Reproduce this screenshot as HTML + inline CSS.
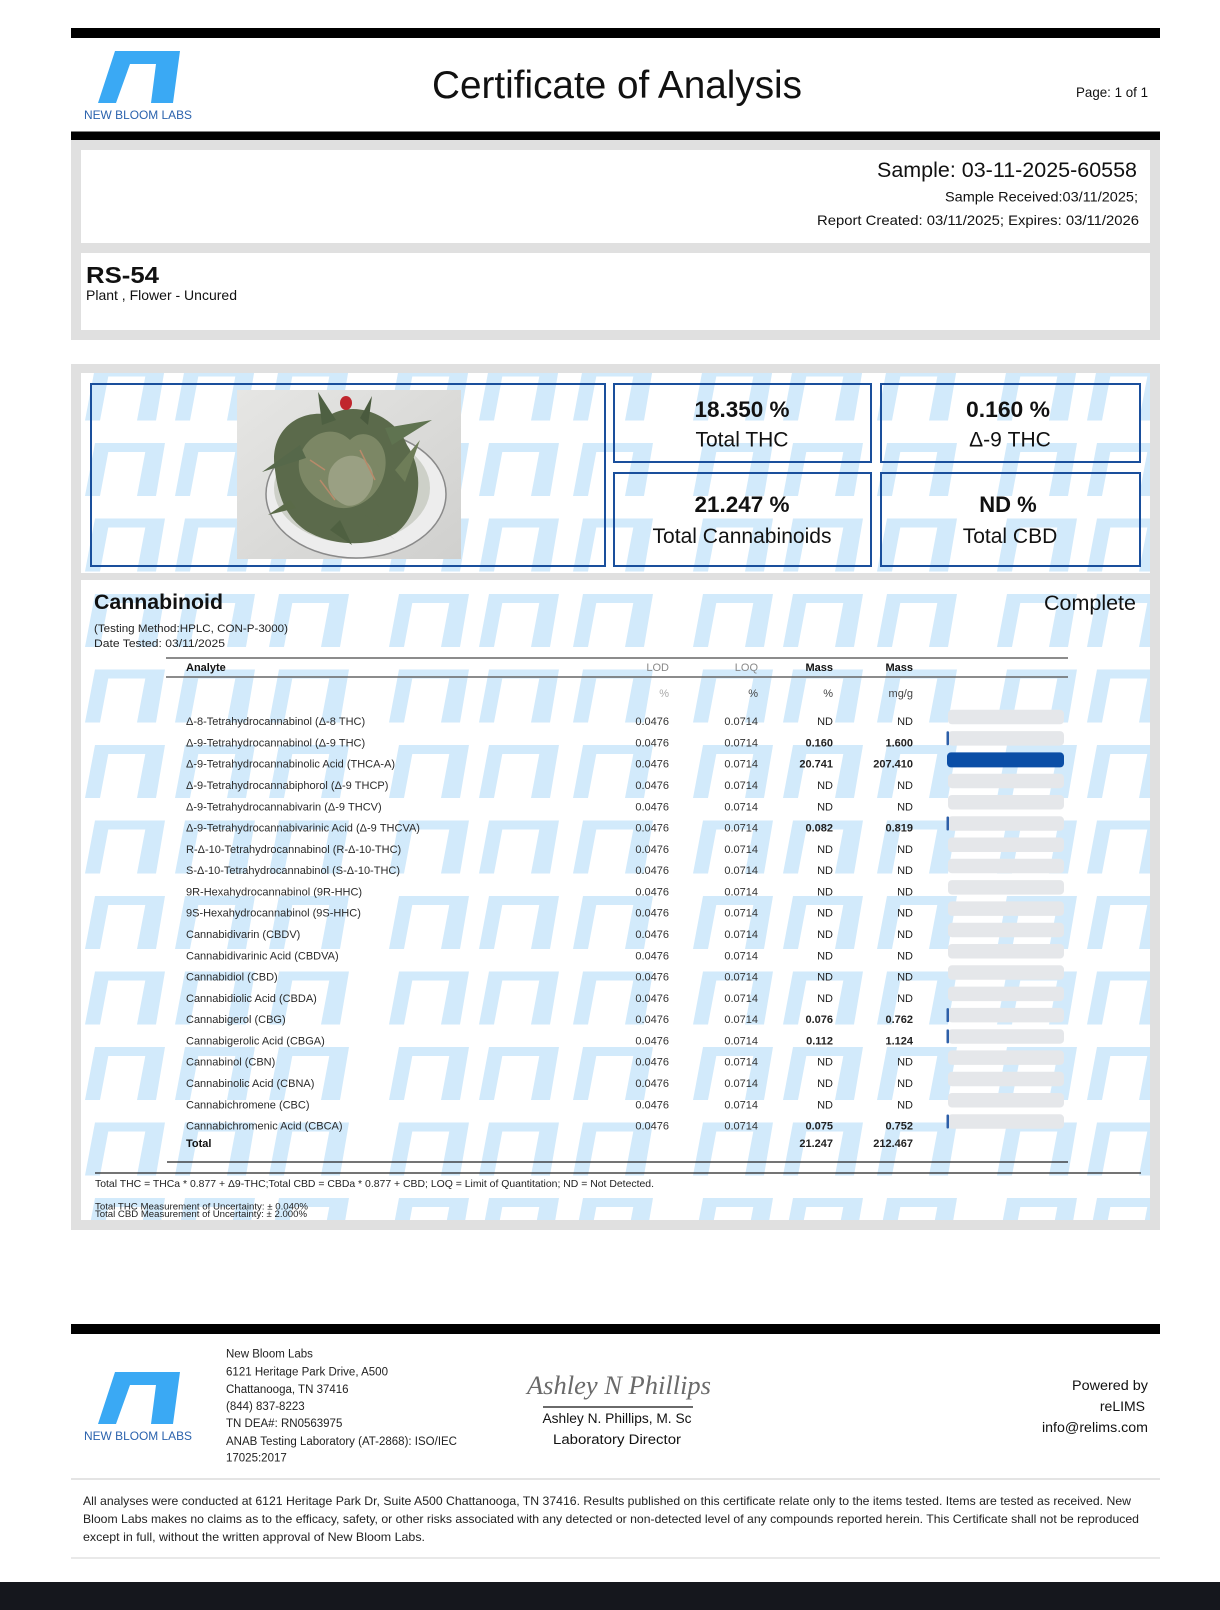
<!DOCTYPE html>
<html>
<head>
<meta charset="utf-8">
<style>
html,body{margin:0;padding:0;background:#fff;}
svg{display:block;}
</style>
</head>
<body>
<svg width="1220" height="1610" viewBox="0 0 1220 1610" xmlns="http://www.w3.org/2000/svg" font-family="'Liberation Sans', 'DejaVu Sans', sans-serif">
<defs>
  <pattern id="wm" patternUnits="userSpaceOnUse" x="85" y="443" width="304" height="75.5">
    <g fill="#d2eafb">
      <polygon points="10,0 80,0 71,53 52,53 60.3,9 23.3,9 15,53 0,53"/>
      <polygon points="100,0 170,0 161,53 142,53 150.3,9 113.3,9 105,53 90,53"/>
      <polygon points="194,0 264,0 255,53 236,53 244.3,9 207.3,9 199,53 184,53"/>
    </g>
  </pattern>
  <linearGradient id="photobg" x1="0" y1="0" x2="1" y2="1">
    <stop offset="0" stop-color="#e6e6e4"/>
    <stop offset="1" stop-color="#d0d0ce"/>
  </linearGradient>
</defs>

<!-- Header -->
<rect x="71" y="28" width="1089" height="10" fill="#000"/>
<polygon points="115,51 180,51 173,103 151,103 156,64 130,64 116,103 98,103" fill="#3aa9f4"/>
<text x="84" y="119" font-size="12" fill="#2a62ad" textLength="108" lengthAdjust="spacingAndGlyphs">NEW BLOOM LABS</text>
<text x="617" y="98" font-size="38.5" fill="#111" text-anchor="middle" textLength="370" lengthAdjust="spacingAndGlyphs">Certificate of Analysis</text>
<text x="1148" y="97" font-size="14" fill="#111" text-anchor="end" textLength="72" lengthAdjust="spacingAndGlyphs">Page: 1 of 1</text>
<rect x="71" y="131.5" width="1089" height="9" fill="#000"/>

<!-- Sample panel -->
<rect x="71" y="140" width="1089" height="200" fill="#e0e0e0"/>
<rect x="81" y="150" width="1069" height="93" fill="#fff"/>
<rect x="81" y="253" width="1069" height="77" fill="#fff"/>
<text x="1137" y="177" font-size="21" fill="#111" text-anchor="end" textLength="260" lengthAdjust="spacingAndGlyphs">Sample: 03-11-2025-60558</text>
<text x="1138" y="201.5" font-size="14" fill="#111" text-anchor="end" textLength="193" lengthAdjust="spacingAndGlyphs">Sample Received:03/11/2025;</text>
<text x="1139" y="225" font-size="14" fill="#111" text-anchor="end" textLength="322" lengthAdjust="spacingAndGlyphs">Report Created: 03/11/2025; Expires: 03/11/2026</text>
<text x="86" y="283" font-size="23" font-weight="bold" fill="#111" textLength="73" lengthAdjust="spacingAndGlyphs">RS-54</text>
<text x="86" y="300" font-size="14" fill="#111" textLength="151" lengthAdjust="spacingAndGlyphs">Plant , Flower - Uncured</text>

<!-- Main panel -->
<rect x="71" y="364" width="1089" height="866" fill="#e0e0e0"/>
<rect x="81" y="373" width="1069" height="200" fill="#fff"/>
<rect x="81" y="373" width="1069" height="200" fill="url(#wm)"/>
<rect x="81" y="580" width="1069" height="640" fill="#fff"/>
<rect x="81" y="580" width="1069" height="640" fill="url(#wm)"/>

<!-- Photo -->
<rect x="237" y="390" width="224" height="169" fill="url(#photobg)"/>
<ellipse cx="356" cy="494" rx="90" ry="64" fill="#ededed" stroke="#8a8a8a" stroke-width="1.5"/>
<ellipse cx="352" cy="488" rx="78" ry="55" fill="#cdd0c8"/>
<path d="M275,470 C268,430 300,408 330,415 C360,398 398,420 407,445 C426,472 420,515 396,533 C370,548 330,546 305,530 C285,516 278,495 275,470Z" fill="#5b6a4b"/>
<path d="M300,455 C310,430 335,425 350,440 C365,425 390,440 385,470 C380,500 350,515 330,505 C305,495 295,475 300,455Z" fill="#7c8765"/>
<path d="M330,470 C340,450 365,452 372,470 C378,490 360,510 345,505 C330,498 325,485 330,470Z" fill="#9aa083"/>
<polygon points="300,445 262,472 306,458" fill="#56684a"/>
<polygon points="322,425 318,392 336,420" fill="#4e6042"/>
<polygon points="385,428 432,420 392,445" fill="#5f7350"/>
<polygon points="360,418 372,396 368,425" fill="#4a5a3e"/>
<polygon points="395,470 420,440 405,482" fill="#6e7d58"/>
<polygon points="290,500 268,515 296,508" fill="#5a6a48"/>
<polygon points="340,520 352,545 330,530" fill="#4f6041"/>
<polygon points="365,515 395,540 372,520" fill="#5c6c4b"/>
<ellipse cx="346" cy="403" rx="6" ry="7" fill="#c0262d"/>
<path d="M360,450 L375,480 M320,480 L335,500 M310,460 L325,470" stroke="#b88a6a" stroke-width="1.5"/>

<!-- Stat boxes -->
<g fill="none" stroke="#1a4f9c" stroke-width="2">
  <rect x="91" y="384" width="514" height="182"/>
  <rect x="614" y="384" width="257" height="78"/>
  <rect x="881" y="384" width="259" height="78"/>
  <rect x="614" y="473" width="257" height="93"/>
  <rect x="881" y="473" width="259" height="93"/>
</g>
<text x="742" y="417" font-size="22" font-weight="bold" fill="#111" text-anchor="middle" textLength="95" lengthAdjust="spacingAndGlyphs">18.350 %</text>
<text x="742" y="446.5" font-size="21" fill="#111" text-anchor="middle">Total THC</text>
<text x="1008" y="417" font-size="22" font-weight="bold" fill="#111" text-anchor="middle" textLength="84" lengthAdjust="spacingAndGlyphs">0.160 %</text>
<text x="1010" y="446.5" font-size="21" fill="#111" text-anchor="middle">Δ-9 THC</text>
<text x="742" y="512" font-size="22" font-weight="bold" fill="#111" text-anchor="middle" textLength="95" lengthAdjust="spacingAndGlyphs">21.247 %</text>
<text x="742" y="543" font-size="21" fill="#111" text-anchor="middle" textLength="179" lengthAdjust="spacingAndGlyphs">Total Cannabinoids</text>
<text x="1008" y="512" font-size="22" font-weight="bold" fill="#111" text-anchor="middle">ND %</text>
<text x="1010" y="543" font-size="21" fill="#111" text-anchor="middle">Total CBD</text>

<!-- Cannabinoid section -->
<text x="94" y="609" font-size="21" font-weight="bold" fill="#111" textLength="129" lengthAdjust="spacingAndGlyphs">Cannabinoid</text>
<text x="1136" y="610" font-size="21" fill="#111" text-anchor="end" textLength="92" lengthAdjust="spacingAndGlyphs">Complete</text>
<text x="94" y="632" font-size="11" fill="#222" textLength="194" lengthAdjust="spacingAndGlyphs">(Testing Method:HPLC, CON-P-3000)</text>
<text x="94" y="647" font-size="11" fill="#222" textLength="131" lengthAdjust="spacingAndGlyphs">Date Tested: 03/11/2025</text>

<line x1="166" y1="658" x2="1068" y2="658" stroke="#666" stroke-width="1.5"/>
<line x1="166" y1="677" x2="1068" y2="677" stroke="#666" stroke-width="1.5"/>
<g font-size="11">
  <text x="186" y="671" font-weight="bold" fill="#111">Analyte</text>
  <text x="669" y="671" fill="#888" text-anchor="end">LOD</text>
  <text x="758" y="671" fill="#888" text-anchor="end">LOQ</text>
  <text x="833" y="671" fill="#111" font-weight="bold" text-anchor="end">Mass</text>
  <text x="913" y="671" fill="#111" font-weight="bold" text-anchor="end">Mass</text>
  <text x="669" y="697" fill="#aaa" text-anchor="end">%</text>
  <text x="758" y="697" fill="#444" text-anchor="end">%</text>
  <text x="833" y="697" fill="#444" text-anchor="end">%</text>
  <text x="913" y="697" fill="#444" text-anchor="end">mg/g</text>
</g>

<!-- Bars -->
<g fill="#e5e7ea">
  <rect x="948" y="709.8" width="116" height="14.5" rx="4"/>
  <rect x="948" y="731.1" width="116" height="14.5" rx="4"/>
  <rect x="948" y="795.0" width="116" height="14.5" rx="4"/>
  <rect x="948" y="773.7" width="116" height="14.5" rx="4"/>
  <rect x="948" y="816.3" width="116" height="14.5" rx="4"/>
  <rect x="948" y="837.5" width="116" height="14.5" rx="4"/>
  <rect x="948" y="858.8" width="116" height="14.5" rx="4"/>
  <rect x="948" y="880.1" width="116" height="14.5" rx="4"/>
  <rect x="948" y="901.4" width="116" height="14.5" rx="4"/>
  <rect x="948" y="922.7" width="116" height="14.5" rx="4"/>
  <rect x="948" y="944.0" width="116" height="14.5" rx="4"/>
  <rect x="948" y="965.3" width="116" height="14.5" rx="4"/>
  <rect x="948" y="986.6" width="116" height="14.5" rx="4"/>
  <rect x="948" y="1007.9" width="116" height="14.5" rx="4"/>
  <rect x="948" y="1029.2" width="116" height="14.5" rx="4"/>
  <rect x="948" y="1050.4" width="116" height="14.5" rx="4"/>
  <rect x="948" y="1071.7" width="116" height="14.5" rx="4"/>
  <rect x="948" y="1093.0" width="116" height="14.5" rx="4"/>
  <rect x="948" y="1114.3" width="116" height="14.5" rx="4"/>
</g>
<rect x="947" y="752.4" width="117" height="15" rx="4" fill="#0b4ea6"/>
<g fill="#2d5fa8">
  <rect x="946.5" y="731.3" width="2.5" height="14" rx="1"/>
  <rect x="946.5" y="816.5" width="2.5" height="14" rx="1"/>
  <rect x="946.5" y="1008.1" width="2.5" height="14" rx="1"/>
  <rect x="946.5" y="1029.4" width="2.5" height="14" rx="1"/>
  <rect x="946.5" y="1114.5" width="2.5" height="14" rx="1"/>
</g>

<!-- Table rows -->
<g font-size="11" fill="#2a2a2a">
  <text x="186" y="725.1">Δ-8-Tetrahydrocannabinol (Δ-8 THC)</text>
  <text x="186" y="746.4">Δ-9-Tetrahydrocannabinol (Δ-9 THC)</text>
  <text x="186" y="767.7">Δ-9-Tetrahydrocannabinolic Acid (THCA-A)</text>
  <text x="186" y="789.0">Δ-9-Tetrahydrocannabiphorol (Δ-9 THCP)</text>
  <text x="186" y="810.3">Δ-9-Tetrahydrocannabivarin (Δ-9 THCV)</text>
  <text x="186" y="831.6">Δ-9-Tetrahydrocannabivarinic Acid (Δ-9 THCVA)</text>
  <text x="186" y="852.8">R-Δ-10-Tetrahydrocannabinol (R-Δ-10-THC)</text>
  <text x="186" y="874.1">S-Δ-10-Tetrahydrocannabinol (S-Δ-10-THC)</text>
  <text x="186" y="895.4">9R-Hexahydrocannabinol (9R-HHC)</text>
  <text x="186" y="916.7">9S-Hexahydrocannabinol (9S-HHC)</text>
  <text x="186" y="938.0">Cannabidivarin (CBDV)</text>
  <text x="186" y="959.3">Cannabidivarinic Acid (CBDVA)</text>
  <text x="186" y="980.6">Cannabidiol (CBD)</text>
  <text x="186" y="1001.9">Cannabidiolic Acid (CBDA)</text>
  <text x="186" y="1023.2">Cannabigerol (CBG)</text>
  <text x="186" y="1044.5">Cannabigerolic Acid (CBGA)</text>
  <text x="186" y="1065.7">Cannabinol (CBN)</text>
  <text x="186" y="1087.0">Cannabinolic Acid (CBNA)</text>
  <text x="186" y="1108.3">Cannabichromene (CBC)</text>
  <text x="186" y="1129.6">Cannabichromenic Acid (CBCA)</text>
  <text x="186" y="1147" font-weight="bold" fill="#111">Total</text>
</g>
<g font-size="11" fill="#333" text-anchor="end">
  <text x="669" y="725.1">0.0476</text><text x="758" y="725.1">0.0714</text>
  <text x="669" y="746.4">0.0476</text><text x="758" y="746.4">0.0714</text>
  <text x="669" y="767.7">0.0476</text><text x="758" y="767.7">0.0714</text>
  <text x="669" y="789.0">0.0476</text><text x="758" y="789.0">0.0714</text>
  <text x="669" y="810.3">0.0476</text><text x="758" y="810.3">0.0714</text>
  <text x="669" y="831.6">0.0476</text><text x="758" y="831.6">0.0714</text>
  <text x="669" y="852.8">0.0476</text><text x="758" y="852.8">0.0714</text>
  <text x="669" y="874.1">0.0476</text><text x="758" y="874.1">0.0714</text>
  <text x="669" y="895.4">0.0476</text><text x="758" y="895.4">0.0714</text>
  <text x="669" y="916.7">0.0476</text><text x="758" y="916.7">0.0714</text>
  <text x="669" y="938.0">0.0476</text><text x="758" y="938.0">0.0714</text>
  <text x="669" y="959.3">0.0476</text><text x="758" y="959.3">0.0714</text>
  <text x="669" y="980.6">0.0476</text><text x="758" y="980.6">0.0714</text>
  <text x="669" y="1001.9">0.0476</text><text x="758" y="1001.9">0.0714</text>
  <text x="669" y="1023.2">0.0476</text><text x="758" y="1023.2">0.0714</text>
  <text x="669" y="1044.5">0.0476</text><text x="758" y="1044.5">0.0714</text>
  <text x="669" y="1065.7">0.0476</text><text x="758" y="1065.7">0.0714</text>
  <text x="669" y="1087.0">0.0476</text><text x="758" y="1087.0">0.0714</text>
  <text x="669" y="1108.3">0.0476</text><text x="758" y="1108.3">0.0714</text>
  <text x="669" y="1129.6">0.0476</text><text x="758" y="1129.6">0.0714</text>
</g>
<g font-size="11" fill="#222" text-anchor="end">
  <text x="833" y="725.1">ND</text><text x="913" y="725.1">ND</text>
  <text x="833" y="746.4" font-weight="bold">0.160</text><text x="913" y="746.4" font-weight="bold">1.600</text>
  <text x="833" y="767.7" font-weight="bold">20.741</text><text x="913" y="767.7" font-weight="bold">207.410</text>
  <text x="833" y="789.0">ND</text><text x="913" y="789.0">ND</text>
  <text x="833" y="810.3">ND</text><text x="913" y="810.3">ND</text>
  <text x="833" y="831.6" font-weight="bold">0.082</text><text x="913" y="831.6" font-weight="bold">0.819</text>
  <text x="833" y="852.8">ND</text><text x="913" y="852.8">ND</text>
  <text x="833" y="874.1">ND</text><text x="913" y="874.1">ND</text>
  <text x="833" y="895.4">ND</text><text x="913" y="895.4">ND</text>
  <text x="833" y="916.7">ND</text><text x="913" y="916.7">ND</text>
  <text x="833" y="938.0">ND</text><text x="913" y="938.0">ND</text>
  <text x="833" y="959.3">ND</text><text x="913" y="959.3">ND</text>
  <text x="833" y="980.6">ND</text><text x="913" y="980.6">ND</text>
  <text x="833" y="1001.9">ND</text><text x="913" y="1001.9">ND</text>
  <text x="833" y="1023.2" font-weight="bold">0.076</text><text x="913" y="1023.2" font-weight="bold">0.762</text>
  <text x="833" y="1044.5" font-weight="bold">0.112</text><text x="913" y="1044.5" font-weight="bold">1.124</text>
  <text x="833" y="1065.7">ND</text><text x="913" y="1065.7">ND</text>
  <text x="833" y="1087.0">ND</text><text x="913" y="1087.0">ND</text>
  <text x="833" y="1108.3">ND</text><text x="913" y="1108.3">ND</text>
  <text x="833" y="1129.6" font-weight="bold">0.075</text><text x="913" y="1129.6" font-weight="bold">0.752</text>
  <text x="833" y="1147" font-weight="bold">21.247</text><text x="913" y="1147" font-weight="bold">212.467</text>
</g>

<line x1="167" y1="1162" x2="1068" y2="1162" stroke="#222" stroke-width="1.2"/>
<line x1="95" y1="1173" x2="1141" y2="1173" stroke="#222" stroke-width="1.2"/>
<text x="95" y="1187" font-size="10.5" fill="#222" textLength="559" lengthAdjust="spacingAndGlyphs">Total THC = THCa * 0.877 + Δ9-THC;Total CBD = CBDa * 0.877 + CBD; LOQ = Limit of Quantitation; ND = Not Detected.</text>
<text x="95" y="1209.5" font-size="9" fill="#222" textLength="213" lengthAdjust="spacingAndGlyphs">Total THC Measurement of Uncertainty: ± 0.040%</text>
<text x="95" y="1217" font-size="9" fill="#222" textLength="212" lengthAdjust="spacingAndGlyphs">Total CBD Measurement of Uncertainty: ± 2.000%</text>

<!-- Footer -->
<rect x="71" y="1324" width="1089" height="10" fill="#000"/>
<polygon points="115,1372 180,1372 173,1424 151,1424 156,1385 130,1385 116,1424 98,1424" fill="#3aa9f4"/>
<text x="84" y="1440" font-size="12" fill="#2a62ad" textLength="108" lengthAdjust="spacingAndGlyphs">NEW BLOOM LABS</text>
<g font-size="11.5" fill="#222">
  <text x="226" y="1357.5">New Bloom Labs</text>
  <text x="226" y="1375.5" textLength="162" lengthAdjust="spacingAndGlyphs">6121 Heritage Park Drive, A500</text>
  <text x="226" y="1393">Chattanooga, TN 37416</text>
  <text x="226" y="1410">(844) 837-8223</text>
  <text x="226" y="1427">TN DEA#: RN0563975</text>
  <text x="226" y="1445" textLength="231" lengthAdjust="spacingAndGlyphs">ANAB Testing Laboratory (AT-2868): ISO/IEC</text>
  <text x="226" y="1461.5">17025:2017</text>
</g>
<text x="527" y="1394" font-family="'Liberation Serif', 'DejaVu Serif', serif" font-style="italic" font-size="26" fill="#6a6a6a" textLength="184" lengthAdjust="spacingAndGlyphs">Ashley N Phillips</text>
<line x1="543" y1="1407" x2="693" y2="1407" stroke="#111" stroke-width="1.2"/>
<text x="617" y="1423" font-size="13.5" fill="#111" text-anchor="middle" textLength="149" lengthAdjust="spacingAndGlyphs">Ashley N. Phillips, M. Sc</text>
<text x="617" y="1444" font-size="13.5" fill="#111" text-anchor="middle" textLength="128" lengthAdjust="spacingAndGlyphs">Laboratory Director</text>
<text x="1148" y="1390" font-size="14" fill="#111" text-anchor="end" textLength="76" lengthAdjust="spacingAndGlyphs">Powered by</text>
<text x="1145" y="1411" font-size="14" fill="#111" text-anchor="end">reLIMS</text>
<text x="1148" y="1432" font-size="14" fill="#111" text-anchor="end" textLength="106" lengthAdjust="spacingAndGlyphs">info@relims.com</text>

<line x1="71" y1="1479" x2="1160" y2="1479" stroke="#dcdcdc" stroke-width="1.5"/>
<g font-size="12" fill="#222">
  <text x="83" y="1505" textLength="1048" lengthAdjust="spacingAndGlyphs">All analyses were conducted at 6121 Heritage Park Dr, Suite A500 Chattanooga, TN 37416. Results published on this certificate relate only to the items tested. Items are tested as received. New</text>
  <text x="83" y="1523" textLength="1056" lengthAdjust="spacingAndGlyphs">Bloom Labs makes no claims as to the efficacy, safety, or other risks associated with any detected or non-detected level of any compounds reported herein. This Certificate shall not be reproduced</text>
  <text x="83" y="1541" textLength="342" lengthAdjust="spacingAndGlyphs">except in full, without the written approval of New Bloom Labs.</text>
</g>
<line x1="71" y1="1558" x2="1160" y2="1558" stroke="#e2e2e2" stroke-width="1.5"/>
<rect x="0" y="1582" width="1220" height="28" fill="#15171d"/>
</svg>
</body>
</html>
